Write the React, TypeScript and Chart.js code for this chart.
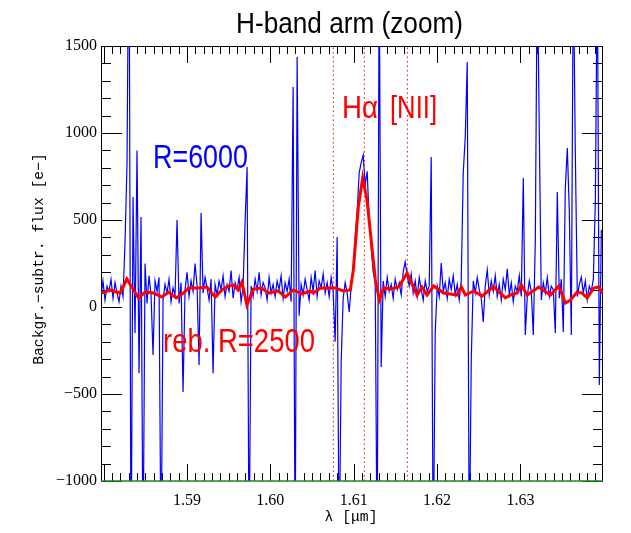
import React, { useEffect, useRef } from "react";
import { Chart, registerables } from "chart.js";

Chart.register(...registerables);

// ---- axis ranges & tick labels ----
const X_MIN = 1.5797;
const X_MAX = 1.6399;
const Y_MIN = -1000;
const Y_MAX = 1500;
const xTickValues = [1.59, 1.6, 1.61, 1.62, 1.63];
const yTickValues = [-1000, -500, 0, 500, 1000, 1500];

// ---- R=6000 spectrum (blue), sampled on a regular wavelength grid ----
const blueStart = 1.5797;
const blueStep = 0.00024;
const blueFlux = [
  60, 150, 40, 120, 90, 160, 50, 140, 80, 30,
  120, 60, 368, 828, 2400, -1600, 632, -150, 900, -380,
  517, -1500, 250, 20, 180, 70, -276, 150, 90, 170,
  -1500, 40, 130, 80, 160, 30, 110, 70, 500, 20,
  140, -488, 100, 200, 60, 150, 90, 250, 120, -333,
  540, 80, 170, 110, 40, 160, -380, 130, 70, 150,
  100, 180, 60, 130, 90, 210, 50, 140, 100, 170,
  30, 120, 489, 805, -1500, 120, 60, 160, 90, 200,
  70, 140, 110, 40, 170, 80, 130, 60, 150, 100,
  180, 50, 140, 90, 160, 30, 1264, -1500, 1437, -50,
  130, 70, 160, 100, 40, 170, 90, 210, 60, 150,
  110, 190, 80, 140, 60, 170, 90, -200, 402, -1500,
  -316, 50, 140, 80, -29, 120, 213, 400, 550, 770,
  830, 873, 700, 780, 500, 350, 200, 150, -1500, 2000,
  -345, 150, 60, 170, 90, 130, 50, 160, 100, 140,
  70, 200, 259, 180, 120, 190, 80, 150, 60, 170,
  100, 40, 150, 90, 120, 862, -1500, -144, 120, 60,
  253, 90, 140, 50, 160, 100, 180, 70, 130, 40,
  150, 770, 977, 1408, -1500, -305, 150, 80, 170, 100,
  50, -86, 120, 213, 70, 150, 90, 180, 60, 130,
  40, 160, 100, 220, 70, 140, 30, 120, 90, 180,
  60, 741, -161, 60, 150, 90, -161, 374, 2000, 1006,
  40, 140, 80, 170, 60, 120, 100, -149, 661, 50,
  160, -144, 684, 914, 546, -161, 2000, 885, 60, 130,
  172, 80, 150, 40, 120, 90, 160, 603, 2000, -448,
  443,
];

// ---- rebinned R=2500 spectrum (red) ----
const rebLambda = [
  1.5798, 1.5808, 1.582, 1.5828, 1.5842, 1.585, 1.586, 1.587, 1.5878, 1.58872,
  1.5896, 1.5902, 1.5914, 1.5924, 1.5934, 1.5942, 1.595, 1.59556, 1.59616, 1.5966,
  1.5972, 1.59796, 1.599, 1.59976, 1.60096, 1.6018, 1.60276, 1.6038, 1.6048, 1.60516,
  1.606, 1.6078, 1.60876, 1.6096, 1.60996, 1.61056, 1.61108, 1.6116, 1.6126, 1.61308,
  1.6136, 1.6144, 1.6154, 1.6164, 1.6176, 1.6182, 1.6188, 1.6196, 1.6208, 1.6216,
  1.6224, 1.62292, 1.6234, 1.6244, 1.6254, 1.6264, 1.6268, 1.6282, 1.6288, 1.6296,
  1.63012, 1.6308, 1.6322, 1.6336, 1.6346, 1.6354, 1.636, 1.6368, 1.6374, 1.638,
  1.6388, 1.6394, 1.63985,
];
const rebFlux = [
  80, 98, 80, 161, 52, 86, 80, 57, 86, 52,
  80, 109, 109, 115, 57, 98, 121, 126, 98, 144,
  11, 103, 109, 80, 92, 57, 98, 75, 92, 80,
  109, 109, 92, 98, 213, 575, 741, 615, 155, 40,
  109, 103, 115, 195, 69, 115, 69, 121, 80, 75,
  69, 115, 69, 92, 63, 103, 115, 52, 69, 80,
  126, 69, 115, 69, 121, 23, 40, 86, 80, 52,
  109, 115, 80,
];

// ---- emission line markers: [NII]6548, Halpha, [NII]6583 ----
const lineLambdas = [1.60756, 1.61128, 1.61644];

const SANS = '"Liberation Sans", Arial, Helvetica, sans-serif';
const SERIF = '"Liberation Serif", "Times New Roman", serif';
const MONO = '"Liberation Mono", "Courier New", monospace';

function drawScaled(
  ctx: CanvasRenderingContext2D,
  text: string,
  left: number,
  baseline: number,
  size: number,
  color: string,
  targetWidth: number
) {
  ctx.save();
  ctx.font = `${size}px ${SANS}`;
  const w = ctx.measureText(text).width;
  const sx = targetWidth / w;
  ctx.translate(left, baseline);
  ctx.scale(sx, 1);
  ctx.fillStyle = color;
  ctx.textAlign = "left";
  ctx.textBaseline = "alphabetic";
  ctx.fillText(text, 0, 0);
  ctx.restore();
}

const framePlugin = {
  id: "idlFrame",
  beforeDatasetsDraw(chart: any) {
    const { ctx, chartArea: a, scales } = chart;
    const xs = scales.x;
    const ys = scales.y;
    ctx.save();
    ctx.strokeStyle = "#000";
    ctx.lineWidth = 1;
    ctx.beginPath();
    ctx.moveTo(a.left + 0.5, a.bottom);
    ctx.lineTo(a.left + 0.5, a.top + 0.5);
    ctx.lineTo(a.right - 0.5, a.top + 0.5);
    ctx.lineTo(a.right - 0.5, a.bottom);
    // x ticks (every 0.001, major every 0.01), inward on bottom & top
    for (let k = 1579; k <= 1640; k++) {
      const v = k / 1000;
      if (v < X_MIN || v > X_MAX) continue;
      const px = Math.round(xs.getPixelForValue(v)) + 0.5;
      const len = k % 10 === 0 ? 17 : 8;
      ctx.moveTo(px, a.bottom);
      ctx.lineTo(px, a.bottom - len);
      ctx.moveTo(px, a.top);
      ctx.lineTo(px, a.top + len);
    }
    // y ticks (every 100, major every 500), inward on left & right
    for (let v = Y_MIN; v <= Y_MAX; v += 100) {
      const py = Math.round(ys.getPixelForValue(v)) + 0.5;
      const len = v % 500 === 0 ? 21 : 10;
      ctx.moveTo(a.left, py);
      ctx.lineTo(a.left + len, py);
      ctx.moveTo(a.right, py);
      ctx.lineTo(a.right - len, py);
    }
    ctx.stroke();
    ctx.restore();
  },
  afterDatasetsDraw(chart: any) {
    const { ctx, chartArea: a } = chart;
    ctx.save();
    ctx.strokeStyle = "#1f8a1f";
    ctx.lineWidth = 1.5;
    ctx.beginPath();
    ctx.moveTo(a.left, a.bottom);
    ctx.lineTo(a.right, a.bottom);
    ctx.stroke();
    ctx.restore();
  },
  afterDraw(chart: any) {
    const { ctx } = chart;
    // title
    drawScaled(ctx, "H-band arm (zoom)", 236, 33, 30, "#000", 227);
    // annotations
    drawScaled(ctx, "R=6000", 153, 168, 34, "#0000ff", 95);
    drawScaled(ctx, "reb. R=2500", 163, 352, 33, "#ff0000", 152);
    drawScaled(ctx, "H\u03b1", 342, 118, 32, "#ff0000", 36);
    drawScaled(ctx, "[NII]", 390, 118, 32, "#ff0000", 47);
    // axis titles
    ctx.save();
    ctx.fillStyle = "#000";
    ctx.font = `14.7px ${MONO}`;
    ctx.textAlign = "center";
    ctx.textBaseline = "middle";
    ctx.fillText("\u03bb [\u03bcm]", 351, 517);
    ctx.translate(39, 259);
    ctx.rotate(-Math.PI / 2);
    ctx.fillText("Backgr.\u2212subtr. flux [e\u2212]", 0, 0);
    ctx.restore();
  },
};

export default function App() {
  const ref = useRef<HTMLCanvasElement | null>(null);

  useEffect(() => {
    if (!ref.current) return;
    const bluePts = blueFlux.map((f, i) => ({ x: blueStart + i * blueStep, y: f }));
    const redPts = rebLambda.map((l, i) => ({ x: l, y: rebFlux[i] }));
    const markerSets = lineLambdas.map((l) => ({
      label: "line " + l,
      data: [
        { x: l, y: Y_MIN },
        { x: l, y: Y_MAX },
      ],
      borderColor: "#ff0000",
      borderWidth: 1,
      borderDash: [1.5, 3],
      pointRadius: 0,
      tension: 0,
    }));

    const chart = new Chart(ref.current, {
      type: "line",
      data: {
        datasets: [
          {
            label: "reb. R=2500",
            data: redPts,
            borderColor: "#ff0000",
            borderWidth: 3,
            pointRadius: 0,
            tension: 0,
          },
          {
            label: "R=6000",
            data: bluePts,
            borderColor: "#0000ff",
            borderWidth: 1.2,
            pointRadius: 0,
            tension: 0,
            clip: 0,
          },
          ...markerSets,
        ] as any,
      },
      options: {
        animation: false,
        responsive: false,
        maintainAspectRatio: false,
        devicePixelRatio: 1,
        layout: { padding: { top: 46, right: 28, left: 0, bottom: 0 } },
        plugins: {
          legend: { display: false },
          tooltip: { enabled: false },
          title: { display: false },
        },
        scales: {
          x: {
            type: "linear",
            min: X_MIN,
            max: X_MAX,
            grid: { display: false, drawTicks: false },
            border: { display: false },
            afterFit: (s: any) => {
              s.height = 52;
            },
            afterBuildTicks: (s: any) => {
              s.ticks = xTickValues.map((v) => ({ value: v }));
            },
            ticks: {
              padding: 10,
              color: "#000",
              autoSkip: false,
              maxRotation: 0,
              font: { family: SERIF, size: 16 },
              callback: (v: any) => Number(v).toFixed(2),
            },
          },
          y: {
            type: "linear",
            min: Y_MIN,
            max: Y_MAX,
            grid: { display: false, drawTicks: false },
            border: { display: false },
            afterFit: (s: any) => {
              s.width = 101;
            },
            afterBuildTicks: (s: any) => {
              s.ticks = yTickValues.map((v) => ({ value: v }));
            },
            ticks: {
              padding: 4,
              color: "#000",
              autoSkip: false,
              font: { family: SERIF, size: 16 },
              callback: (v: any) => {
                const n = Number(v);
                return n < 0 ? "\u2212" + String(-n) : String(n);
              },
            },
          },
        },
      } as any,
      plugins: [framePlugin],
    });
    return () => chart.destroy();
  }, []);

  return (
    <div
      style={{
        position: "fixed",
        left: 0,
        top: 0,
        width: 631,
        height: 533,
        background: "#fff",
      }}
    >
      <canvas ref={ref} width={631} height={533} style={{ display: "block" }} />
    </div>
  );
}
